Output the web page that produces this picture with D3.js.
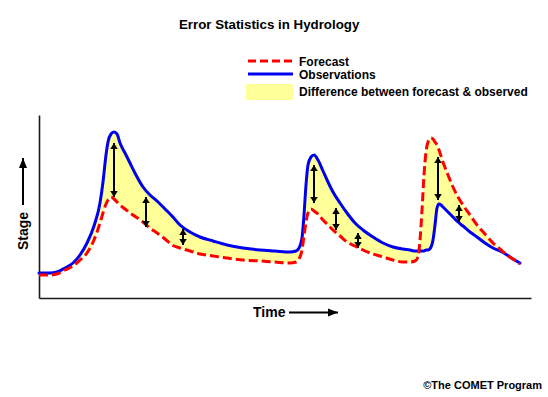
<!DOCTYPE html>
<html>
<head>
<meta charset="utf-8">
<script src="https://cdn.jsdelivr.net/npm/d3@7"></script>
<style>
  html, body { margin: 0; padding: 0; background: #fff; }
  svg { display: block; }
  text { font-family: Arial, "Liberation Sans", Helvetica, sans-serif; font-weight: bold; fill: #000; }
</style>
</head>
<body>
<script>
// ---- Data (time units and stage units) ----
const time = [0,11,18,26,34,41,48,55,61,64,67,69,72,75,78,81,86,91,97,104,111,118,126,133,141,151,161,174,188,204,221,236,251,257,260,263,265,267,269,272,275,279,284,289,294,301,308,316,324,334,344,354,364,371,376,379,381,383,385,387,389,392,394,396,398,400,402,404,409,414,419,424,431,438,446,454,461,468,474,481];
const observed = [25,25,26,30,35,43,55,72,95,116,143,156,164,166,164,155,145,135,123,111,103,97,89,82,73,66,61,57,53,50,48,47,46,47,50,60,83,113,133,141,143,138,127,116,106,95,85,75,68,61,55,51,49,48,47,47,47,47,47,48,48,51,58,73,90,94,93,91,86,81,76,72,66,61,55,50,47,43,39,35];
const forecast = [23,23,24,28,32,38,45,58,75,85,94,98,101,99,96,93,89,85,81,76,70,65,59,53,50,47,44,42,40,38,37,36,35,36,39,48,62,76,85,89,87,84,78,73,68,62,56,52,48,44,41,38,36,36,37,41,58,88,123,146,156,160,159,156,153,148,142,136,123,111,101,93,83,73,64,55,49,43,39,34];
// error arrows: time, upper stage, lower stage
const arrowTime  = [75, 107, 144, 275, 297, 319, 399, 420];
const arrowUpper = [155, 101, 69, 133, 90, 65, 141, 93];
const arrowLower = [101, 71, 53, 95, 68, 50, 98, 76];

const titleText = "Error Statistics in Hydrology";
const legendLabels = ["Forecast", "Observations", "Difference between forecast & observed"];
const xLabel = "Time";
const yLabel = "Stage";
const credit = "\u00A9The COMET Program";

// ---- Layout ----
const W = 548, H = 397;
const colors = { forecast: "#ff0000", observed: "#0000f0", diff: "#ffff99", axis: "#1a1a1a" };

const svg = d3.select("body").append("svg").attr("width", W).attr("height", H);

const x = d3.scaleLinear().domain([0, 492]).range([39, 531]);
const y = d3.scaleLinear().domain([0, 183]).range([298, 115]);

const data = time.map((t, i) => ({ t, obs: observed[i], fc: forecast[i] }));

// markers
const defs = svg.append("defs");
defs.append("marker")
  .attr("id", "head")
  .attr("viewBox", "0 -5 8 10")
  .attr("refX", 8).attr("refY", 0)
  .attr("markerWidth", 6).attr("markerHeight", 7.5)
  .attr("markerUnits", "userSpaceOnUse")
  .attr("orient", "auto-start-reverse")
  .append("path").attr("d", "M0,-5L8,0L0,5Z").attr("fill", "#000");
defs.append("marker")
  .attr("id", "headBig")
  .attr("viewBox", "0 -5 10 10")
  .attr("refX", 10).attr("refY", 0)
  .attr("markerWidth", 10).attr("markerHeight", 10)
  .attr("markerUnits", "userSpaceOnUse")
  .attr("orient", "auto")
  .append("path").attr("d", "M0,-4L10,0L0,4Z").attr("fill", "#000");

// title
svg.append("text").attr("x", 179).attr("y", 29)
  .style("font-size", "13.3px").text(titleText);

// difference area
const area = d3.area()
  .x(d => x(d.t)).y0(d => y(d.fc)).y1(d => y(d.obs))
  .curve(d3.curveMonotoneX);
svg.append("path").datum(data).attr("d", area).attr("fill", colors.diff);

// axes
svg.append("g").attr("transform", `translate(${x(0)},0)`)
  .call(d3.axisLeft(y).ticks(0).tickSizeOuter(0))
  .call(g => g.select(".domain").attr("stroke", colors.axis).attr("stroke-width", 1.6));
svg.append("g").attr("transform", `translate(0,${y(0)})`)
  .call(d3.axisBottom(x).ticks(0).tickSizeOuter(0))
  .call(g => g.select(".domain").attr("stroke", colors.axis).attr("stroke-width", 1.6));

// lines
const lineObs = d3.line().x(d => x(d.t)).y(d => y(d.obs)).curve(d3.curveMonotoneX);
const lineFc = d3.line().x(d => x(d.t)).y(d => y(d.fc)).curve(d3.curveMonotoneX);
svg.append("path").datum(data).attr("d", lineObs)
  .attr("fill", "none").attr("stroke", colors.observed).attr("stroke-width", 3)
  .attr("stroke-linejoin", "round").attr("stroke-linecap", "round");
svg.append("path").datum(data).attr("d", lineFc)
  .attr("fill", "none").attr("stroke", colors.forecast).attr("stroke-width", 3)
  .attr("stroke-dasharray", "9,4");

// error arrows
arrowTime.forEach((t, i) => {
  svg.append("line")
    .attr("x1", x(t)).attr("x2", x(t))
    .attr("y1", y(arrowUpper[i])).attr("y2", y(arrowLower[i]))
    .attr("stroke", "#000").attr("stroke-width", 2)
    .attr("marker-start", "url(#head)").attr("marker-end", "url(#head)");
});

// legend
const lg = svg.append("g");
lg.append("line").attr("x1", 248).attr("x2", 293).attr("y1", 61).attr("y2", 61)
  .attr("stroke", colors.forecast).attr("stroke-width", 3).attr("stroke-dasharray", "8,4");
lg.append("line").attr("x1", 248).attr("x2", 293).attr("y1", 74).attr("y2", 74)
  .attr("stroke", colors.observed).attr("stroke-width", 3);
lg.append("rect").attr("x", 246).attr("y", 84).attr("width", 47).attr("height", 16)
  .attr("fill", colors.diff);
[66, 79, 96].forEach((yy, i) => {
  lg.append("text").attr("x", 299).attr("y", yy).style("font-size", "12px").text(legendLabels[i]);
});

// axis labels with arrows
svg.append("text").attr("transform", "translate(28,231) rotate(-90)")
  .attr("text-anchor", "middle").style("font-size", "14px").text(yLabel);
svg.append("line").attr("x1", 23).attr("x2", 23).attr("y1", 205).attr("y2", 158)
  .attr("stroke", "#000").attr("stroke-width", 2).attr("marker-end", "url(#headBig)");

svg.append("text").attr("x", 253).attr("y", 317).style("font-size", "14px").text(xLabel);
svg.append("line").attr("x1", 289).attr("x2", 338).attr("y1", 312.5).attr("y2", 312.5)
  .attr("stroke", "#000").attr("stroke-width", 2).attr("marker-end", "url(#headBig)");

// credit
svg.append("text").attr("x", 542).attr("y", 389).attr("text-anchor", "end")
  .style("font-size", "11px").text(credit);
</script>
</body>
</html>
